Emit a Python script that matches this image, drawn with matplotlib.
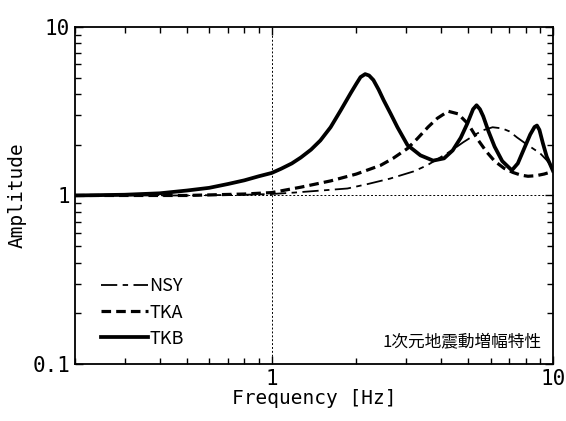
import matplotlib.pyplot as plt
from matplotlib.ticker import LogLocator, NullFormatter, FixedLocator, FixedFormatter

plt.rcParams['font.family'] = ['DejaVu Sans Mono', 'Noto Sans CJK JP']

# NSY
nsy_f = [0.2, 0.5, 0.8, 1.0, 1.2, 1.5, 1.86, 2.2, 2.64, 3.2, 3.57, 4.3, 4.8,
         5.3, 5.65, 6.1, 6.6, 7.0, 7.45, 8.1, 9.0, 9.5, 10]
nsy_a = [1.0, 1.0, 1.01, 1.02, 1.04, 1.07, 1.1, 1.17, 1.26, 1.39, 1.51,
         1.82, 2.07, 2.3, 2.44, 2.54, 2.5, 2.4, 2.21, 2.0, 1.78, 1.62, 1.45]

# TKA
tka_f = [0.2, 0.5, 0.8, 1.0, 1.27, 1.62, 2.0, 2.44, 2.7, 3.04, 3.3, 3.6,
         3.88, 4.24, 4.6, 5.0, 5.4, 5.8, 6.2, 6.7, 7.2, 7.7, 8.15, 8.7, 9.3, 10]
tka_a = [1.0, 1.0, 1.02, 1.04, 1.12, 1.22, 1.34, 1.51, 1.66, 1.9, 2.18, 2.55,
         2.87, 3.16, 3.05, 2.65, 2.15, 1.82, 1.6, 1.45, 1.37, 1.32, 1.30, 1.31,
         1.34, 1.39]

# TKB
tkb_f = [0.2, 0.3, 0.4, 0.5, 0.6, 0.7, 0.8, 0.9, 1.0, 1.08, 1.18, 1.27, 1.38,
         1.49, 1.62, 1.76, 1.91, 2.0, 2.07, 2.15, 2.22, 2.3, 2.4, 2.5, 2.65, 2.8,
         3.04, 3.38, 3.75, 4.1, 4.4, 4.7, 4.95, 5.2, 5.35, 5.5, 5.65, 5.9, 6.2,
         6.6, 7.14, 7.5, 7.9, 8.3, 8.6, 8.77, 8.95, 9.2, 9.5, 10]
tkb_a = [1.0, 1.01, 1.03, 1.07, 1.11, 1.17, 1.23, 1.3, 1.36, 1.44, 1.55, 1.68,
         1.87, 2.12, 2.54, 3.2, 4.05, 4.6, 5.04, 5.25, 5.15, 4.84, 4.25, 3.68,
         3.05, 2.54, 1.99, 1.73, 1.61, 1.66, 1.85, 2.2, 2.65, 3.25, 3.43, 3.25,
         2.95, 2.4, 1.95, 1.6, 1.41, 1.55, 1.9, 2.3, 2.55, 2.6, 2.45, 2.05, 1.7, 1.4]

fig = plt.figure(figsize=(5.66, 4.21), dpi=100)
ax = fig.add_axes([0.1325, 0.1354, 0.8445, 0.8006])

ax.plot(nsy_f, nsy_a, c='k', lw=1.3, dashes=(9, 3, 3, 3), label='NSY')
ax.plot(tka_f, tka_a, c='k', lw=2.3, dashes=(3, 1.6), label='TKA')
ax.plot(tkb_f, tkb_a, c='k', lw=2.7, label='TKB')

ax.axvline(1, c='k', lw=0.7, ls=(0, (2, 2)))
ax.axhline(1, c='k', lw=0.7, ls=(0, (2, 2)))

ax.set_xscale('log')
ax.set_yscale('log')
ax.set_xlim(0.2, 10)
ax.set_ylim(0.1, 10)

ax.xaxis.set_major_locator(FixedLocator([1, 10]))
ax.xaxis.set_major_formatter(FixedFormatter(['1', '10']))
ax.yaxis.set_major_locator(FixedLocator([0.1, 1, 10]))
ax.yaxis.set_major_formatter(FixedFormatter(['0.1', '1', '10']))
ax.xaxis.set_minor_locator(LogLocator(subs=range(2, 10)))
ax.yaxis.set_minor_locator(LogLocator(subs=range(2, 10)))
ax.xaxis.set_minor_formatter(NullFormatter())
ax.yaxis.set_minor_formatter(NullFormatter())
ax.tick_params(which='both', direction='in', top=True, right=True, width=1, labelsize=15)
ax.tick_params(which='major', length=6)
ax.tick_params(which='minor', length=4)
for s in ax.spines.values():
    s.set_linewidth(1.3)

ax.set_xlabel('Frequency [Hz]', fontsize=14, labelpad=0)
ax.set_ylabel('Amplitude', fontsize=14, labelpad=4)

ax.legend(loc='lower left', bbox_to_anchor=(0.02, 0.0), frameon=False,
          prop={'family': 'Noto Sans CJK JP', 'size': 13},
          handlelength=2.6, handletextpad=0.1, labelspacing=0.45)
ax.text(0.975, 0.065, '1次元地震動増幅特性', transform=ax.transAxes, ha='right', va='center',
        fontsize=12, family='Noto Sans CJK JP')

plt.savefig('out.png')
